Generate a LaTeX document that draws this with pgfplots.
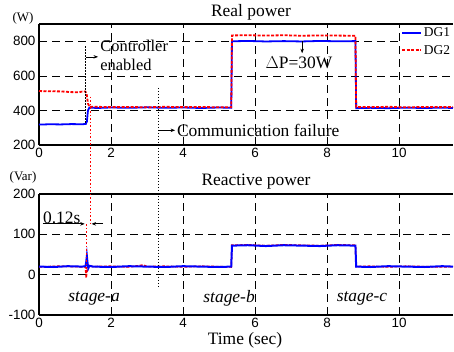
\documentclass[border=0pt]{standalone}
\usepackage{fontspec}
\setmainfont{Liberation Serif}
\newfontfamily\sansf{Liberation Sans}
\usepackage{pgfplots}
\pgfplotsset{compat=1.18}
\usetikzlibrary{arrows.meta}
\definecolor{dgblue}{RGB}{0,0,255}
\definecolor{dgred}{RGB}{255,0,0}
\newcommand\bigtxt{\fontsize{17.5}{15.5}\selectfont}
\tikzset{
  dotblk/.style={black, line width=1.2bp, dash pattern=on 1.4bp off 1.6bp},
  dotred/.style={dgred, line width=1.2bp, dash pattern=on 1.6bp off 2bp},
  arr/.style={-{Stealth[length=4.5bp,width=3.5bp]}, black, line width=0.6bp},
}
\pgfplotsset{
  myaxis/.style={
    scale only axis, width=414bp, height=121bp,
    xmin=0, xmax=11.5,
    axis x line*=box, axis y line*=left,
    xtick={0,2,...,10},
    xtick pos=bottom, ytick pos=left,
    tick align=inside, major tick length=4bp,
    tick style={black, line width=0.6bp},
    grid=major,
    major grid style={black, line width=0.6bp, dash pattern=on 8bp off 5bp},
    axis line style={black, line width=1.1bp},
    ticklabel style={font=\sansf\fontsize{13.5}{14}\selectfont},
    /pgf/number format/assume math mode=true,
  },
}
\begin{document}
\begin{tikzpicture}
\useasboundingbox (0,0) rectangle (454bp,352bp);
% ---------------- Real power ----------------
\begin{axis}[myaxis, at={(39bp,207bp)}, anchor=south west,
  ymin=200, ymax=900, ytick={200,400,600,800},
  legend style={at={(0.872,0.995)}, anchor=north west, draw=white, fill=white,
    font=\fontsize{13.5}{14}\selectfont, inner sep=1pt, row sep=3bp,
    legend cell align=left},
  legend image code/.code={\draw[mark repeat=2,mark phase=2,#1] plot coordinates {(0bp,0bp) (9.5bp,0bp) (19bp,0bp)};},
]
\addplot[color=dgblue, line width=1.8bp] coordinates {
(0,318) (0.3,320) (0.6,319) (0.9,321) (1.2,320) (1.30,322) (1.33,335) (1.36,400)
(1.40,417) (1.6,414) (2.0,417) (2.5,415) (3.0,418) (3.5,415) (4.0,417) (4.5,414)
(5.0,417) (5.34,415) (5.36,800) (5.8,802) (6.3,799) (6.8,801) (7.3,799) (7.8,802)
(8.3,800) (8.79,801) (8.81,413) (9.2,415) (9.7,413) (10.2,416) (10.7,414)
(11.2,416) (11.5,414)};
\addlegendentry{DG1}
\addplot[color=dgred, line width=1.8bp, dash pattern=on 3bp off 1.5bp] coordinates {
(0,512) (0.3,511) (0.6,510) (0.9,506) (1.1,505) (1.2,509) (1.28,510) (1.32,500)
(1.36,440) (1.40,422) (1.6,421) (2.0,419) (2.5,420) (3.0,418) (3.5,421) (4.0,419)
(4.5,420) (5.0,418) (5.34,419) (5.36,834) (5.8,835) (6.3,833) (6.8,835) (7.3,832)
(7.8,834) (8.3,833) (8.79,832) (8.81,420) (9.2,419) (9.7,421) (10.2,418)
(10.7,420) (11.2,419) (11.5,420)};
\addlegendentry{DG2}
\coordinate (redtop) at (axis cs:1.42,480);
\coordinate (comtop) at (axis cs:3.31,530);
\draw[dotblk] (axis cs:1.30,770) -- (axis cs:1.30,325);
\draw[arr] (axis cs:1.30,710) -- (axis cs:1.64,710);
\node[anchor=base west, font=\fontsize{16.5}{17}\selectfont, inner sep=0pt] at (axis cs:1.70,740) {Controller};
\node[anchor=base west, font=\fontsize{16.5}{17}\selectfont, inner sep=0pt] at (axis cs:1.70,633) {enabled};
\draw[arr] (axis cs:3.31,285) -- (axis cs:3.78,285);
\node[anchor=west, font=\bigtxt, inner sep=0pt] at (axis cs:3.83,287) {Communication failure};
\draw[arr] (axis cs:7.31,800) -- (axis cs:7.31,731);
\node[font=\bigtxt, inner sep=0pt] at (axis cs:7.22,673) {$\Delta$P=30W};
\end{axis}
% ---------------- Reactive power ----------------
\begin{axis}[myaxis, at={(39bp,37bp)}, anchor=south west,
  ymin=-100, ymax=200, ytick={-100,0,100,200}]
\addplot[color=dgred, line width=1.5bp, dash pattern=on 3bp off 1.5bp] coordinates {
(0,19) (0.5,21) (1.0,20) (1.29,19) (1.31,-8) (1.33,5) (1.36,22) (1.5,20) (2.0,21)
(2.5,19) (2.9,24) (3.0,20) (3.5,21) (4.0,19) (4.5,21) (5.0,20) (5.34,19)
(5.36,73) (5.8,74) (6.3,72) (6.8,74) (7.3,73) (7.8,72) (8.3,74) (8.79,73)
(8.81,20) (9.2,21) (9.7,19) (10.2,21) (10.7,20) (11.2,19) (11.5,20)};
\addplot[color=dgblue, line width=2bp] coordinates {
(0,20) (0.4,19) (0.8,21) (1.2,20) (1.29,21) (1.31,30) (1.33,46) (1.35,28)
(1.37,16) (1.40,22) (1.5,20) (2.0,19) (2.5,21) (3.0,20) (3.5,19) (4.0,21)
(4.5,20) (5.0,19) (5.34,20) (5.36,72) (5.8,73) (6.3,71) (6.8,73) (7.3,72)
(7.8,71) (8.3,73) (8.79,72) (8.81,20) (9.2,19) (9.7,21) (10.2,20) (10.7,19)
(11.2,21) (11.5,20)};
\coordinate (redbot) at (axis cs:1.42,122);
\coordinate (combot) at (axis cs:3.31,-35);
\draw[dotred] (axis cs:1.31,125) -- (axis cs:1.31,-8);
\draw[arr, line width=0.8bp] (axis cs:0.11,126) -- (axis cs:1.27,126);
\draw[arr, line width=0.8bp] (axis cs:1.78,126) -- (axis cs:1.46,126);
\node[anchor=base west, font=\bigtxt, inner sep=0pt] at (axis cs:0.11,128) {0.12s};
\node[font=\bigtxt\itshape, inner sep=0pt] at (axis cs:1.53,-58) {stage-a};
\node[font=\bigtxt\itshape, inner sep=0pt] at (axis cs:5.28,-58) {stage-b};
\node[font=\bigtxt\itshape, inner sep=0pt] at (axis cs:8.97,-58) {stage-c};
\end{axis}
\draw[dotred] (redtop) -- (redbot);
\draw[dotblk] (comtop) -- (combot);
% titles and units
\node[font=\bigtxt] at (251bp,340bp) {Real power};
\node[font=\bigtxt] at (256bp,170bp) {Reactive power};
\node[font=\bigtxt] at (245bp,12bp) {Time (sec)};
\node[font=\fontsize{13}{14}\selectfont] at (23bp,334bp) {(W)};
\node[font=\fontsize{13}{14}\selectfont] at (23bp,175bp) {(Var)};
\end{tikzpicture}
\end{document}
